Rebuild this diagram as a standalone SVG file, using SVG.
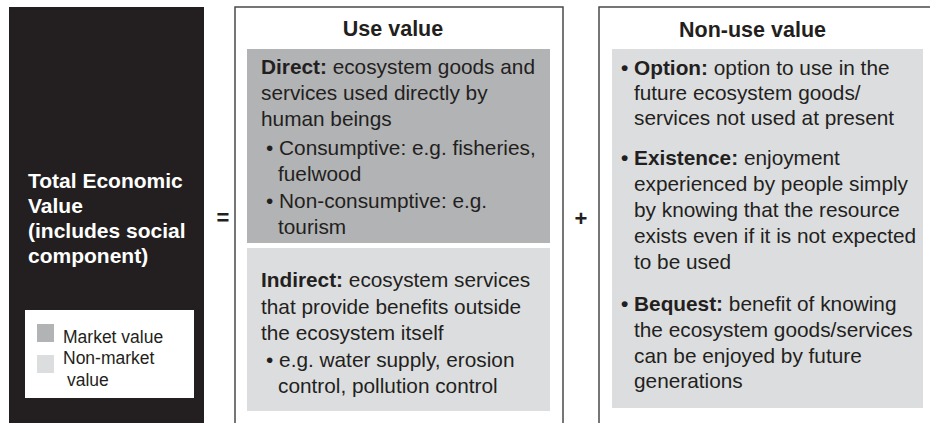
<svg xmlns="http://www.w3.org/2000/svg" width="930" height="423" viewBox="0 0 930 423">
<style>
text { font-family: "Liberation Sans", Arial, sans-serif; fill: #231f20; }
.body { font-size: 20.8px; }
.b { font-weight: bold; }
.head { font-size: 21.5px; font-weight: bold; text-anchor: middle; }
.title { font-size: 21px; font-weight: bold; fill: #ffffff; }
.leg { font-size: 17.5px; }
.frame { fill: #ffffff; stroke: #4a4a4a; stroke-width: 1.5; }
.dark { fill: #b2b3b5; }
.light { fill: #dcdddf; }
.op { font-size: 22px; font-weight: bold; text-anchor: middle; }
</style>
<rect x="0" y="0" width="930" height="423" fill="#ffffff"/>

<g id="total">
  <rect x="9" y="7" width="195" height="420" fill="#231f20"/>
  <text class="title" x="28" y="188">Total Economic</text>
  <text class="title" x="28" y="213">Value</text>
  <text class="title" x="28" y="238">(includes social</text>
  <text class="title" x="28" y="263">component)</text>
</g>

<g id="legend">
  <rect x="25" y="310" width="169" height="88" fill="#ffffff"/>
  <rect class="dark" x="37" y="324" width="17" height="18"/>
  <rect class="light" x="37" y="355" width="17" height="18"/>
  <text class="leg" x="63" y="343">Market value</text>
  <text class="leg" x="63" y="364">Non-market</text>
  <text class="leg" x="67" y="386">value</text>
</g>

<g id="operators">
  <text class="op" x="223" y="225">=</text>
  <text class="op" x="581" y="226">+</text>
</g>

<g id="use-value">
  <path class="frame" d="M235,427 V7 H563 V427"/>
  <text class="head" x="393" y="36">Use value</text>
</g>

<g id="direct">
  <rect class="dark" x="247" y="49" width="303" height="194"/>
  <text class="body" x="261" y="74"><tspan class="b">Direct:</tspan> ecosystem goods and</text>
  <text class="body" x="261" y="100">services used directly by</text>
  <text class="body" x="261" y="126">human beings</text>
  <text class="body" x="266" y="155">• Consumptive: e.g. fisheries,</text>
  <text class="body" x="278" y="181">fuelwood</text>
  <text class="body" x="266" y="208">• Non-consumptive: e.g.</text>
  <text class="body" x="278" y="234">tourism</text>
</g>

<g id="indirect">
  <rect class="light" x="247" y="248" width="303" height="163"/>
  <text class="body" x="261" y="287"><tspan class="b">Indirect:</tspan> ecosystem services</text>
  <text class="body" x="261" y="313.5">that provide benefits outside</text>
  <text class="body" x="261" y="340">the ecosystem itself</text>
  <text class="body" x="266" y="366.5">• e.g. water supply, erosion</text>
  <text class="body" x="278" y="393">control, pollution control</text>
</g>

<g id="non-use">
  <path class="frame" d="M599,427 V7 H935"/>
  <text class="head" x="752.5" y="37">Non-use value</text>
  <rect class="light" x="612" y="49" width="311" height="359"/>
  <text class="body" x="621" y="75"><tspan class="b">• Option:</tspan> option to use in the</text>
  <text class="body" x="634" y="100">future ecosystem goods/</text>
  <text class="body" x="634" y="125">services not used at present</text>
  <text class="body" x="621" y="165"><tspan class="b">• Existence:</tspan> enjoyment</text>
  <text class="body" x="634" y="191">experienced by people simply</text>
  <text class="body" x="634" y="217">by knowing that the resource</text>
  <text class="body" x="634" y="243">exists even if it is not expected</text>
  <text class="body" x="634" y="269">to be used</text>
  <text class="body" x="621" y="311"><tspan class="b">• Bequest:</tspan> benefit of knowing</text>
  <text class="body" x="634" y="337">the ecosystem goods/services</text>
  <text class="body" x="634" y="363">can be enjoyed by future</text>
  <text class="body" x="634" y="388">generations</text>
</g>
</svg>
